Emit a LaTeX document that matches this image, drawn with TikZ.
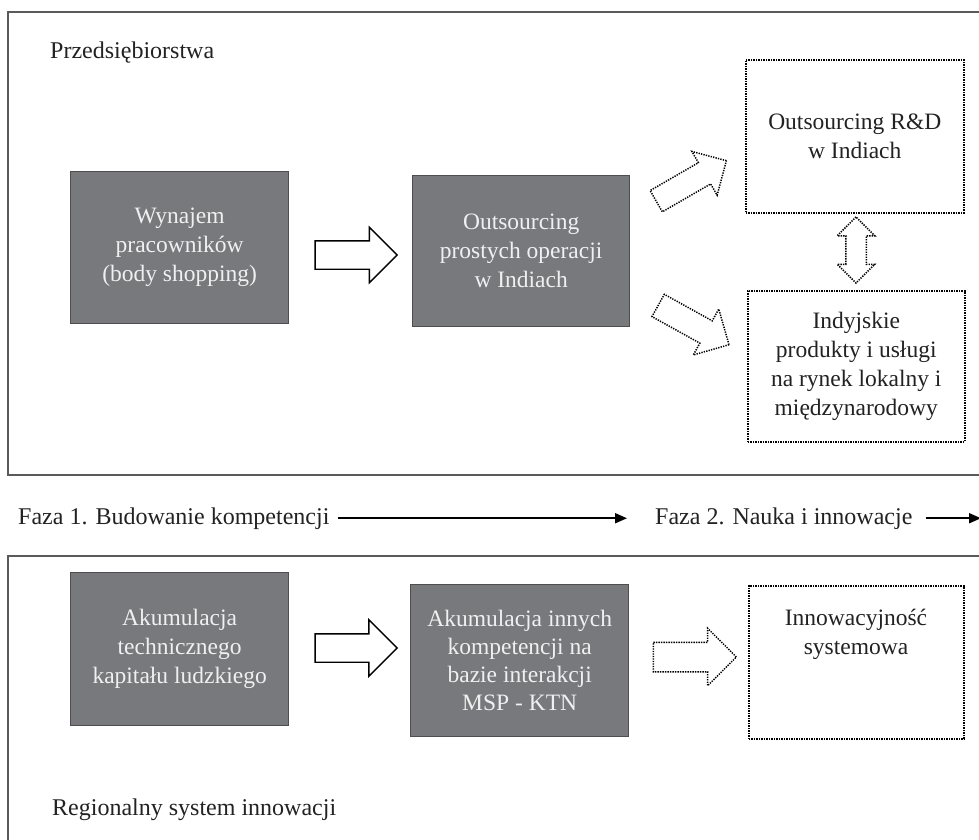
\documentclass[tikz,border=0pt]{standalone}
\usepackage{fontspec}
\setmainfont{Liberation Serif}
\usetikzlibrary{shapes.arrows,arrows.meta}
\definecolor{boxfill}{HTML}{78797D}
\definecolor{boxedge}{HTML}{4E4E4E}
\definecolor{framecol}{HTML}{5A5A5A}
\definecolor{txt}{HTML}{222222}
\begin{document}
\begin{tikzpicture}[x=1pt,y=-1pt,
  frame/.style={draw=framecol, line width=1.5pt},
  graybox/.style={draw=boxedge, fill=boxfill, line width=1.3pt, text=white!94!black,
    align=center, font=\fontsize{23.5}{29}\selectfont, inner sep=0pt, anchor=north west},
  dotbox/.style={draw=black, dash pattern=on 1.3pt off 1.2pt, line width=1.5pt, text=txt,
    align=center, font=\fontsize{23.5}{29}\selectfont, inner sep=0pt, anchor=north west},
  blocktext/.style={text=txt, align=center, font=\fontsize{23.5}{29}\selectfont, inner sep=0pt},
  lbl/.style={text=txt, font=\fontsize{24}{28}\selectfont, inner sep=0pt, anchor=base west},
  solidarrow/.style={single arrow, draw=black, fill=white, line width=1.4pt, inner xsep=0pt,
    single arrow head indent=0pt},
  dotarrow/.style={single arrow, draw=black, dash pattern=on 1.3pt off 1.2pt, line width=1.5pt,
    inner xsep=0pt, single arrow head indent=0pt},
  dotdouble/.style={double arrow, draw=black, dash pattern=on 1.3pt off 1.2pt, line width=1.5pt,
    inner xsep=0pt, double arrow head indent=0pt},
  phase/.style={draw=black, line width=1.8pt, -{Triangle[length=12pt,width=10pt]}}
]
\useasboundingbox (0,0) rectangle (979,839);
\clip (0,0) rectangle (979,839);
\fill[white] (0,0) rectangle (979,839);

% frames
\draw[frame] (8,12) rectangle (995,475);
\draw[frame] (8,556) rectangle (995,860);

% labels
\node[lbl] (firm) at (50,58) {Przedsiębiorstwa};
\node[lbl] (reg) at (52,815) {Regionalny system innowacji};
\node[lbl] (f1) at (18,524) {Faza 1. Budowanie kompetencji};
\node[lbl] (f2) at (655,524) {Faza 2. Nauka i innowacje};
\coordinate (endx) at (981,0);

% top boxes
\node[graybox, minimum width=218pt, minimum height=152pt] (wyn) at (70,171)
  {Wynajem\\pracowników\\(body shopping)};
\node[graybox, minimum width=217pt, minimum height=151pt] (outp) at (412,175)
  {Outsourcing\\prostych operacji\\w Indiach};
\node[dotbox, minimum width=218pt, minimum height=153pt] (rd) at (745,59)
  {Outsourcing R\&D\\w Indiach};
\node[dotbox, minimum width=217pt, minimum height=151pt] (ind) at (747,290)
  {Indyjskie\\produkty i usługi\\na rynek lokalny i\\międzynarodowy};

% bottom boxes
\node[graybox, minimum width=218pt, minimum height=153pt] (akt) at (70,572)
  {Akumulacja\\technicznego\\kapitału ludzkiego};
\node[graybox, minimum width=218pt, minimum height=152pt, font=\fontsize{23.5}{28}\selectfont] (aki) at (410,584)
  {Akumulacja innych\\kompetencji na\\bazie interakcji\\MSP - KTN};
\node[dotbox, minimum width=215pt, minimum height=153pt] (inn) at (748,585) {};
\node[blocktext] (inntext) at (856,634) {Innowacyjność\\systemowa};

% block arrows
\node[solidarrow, inner ysep=13.5pt, minimum height=82pt, minimum width=54pt, single arrow head extend=13.5pt] (a1) at (349,255) {};
\node[solidarrow, inner ysep=13.5pt, minimum height=82pt, minimum width=55pt, single arrow head extend=14pt] (a2) at (349,648) {};
\node[dotarrow, inner ysep=14pt, minimum height=83pt, minimum width=56pt, single arrow head extend=14pt] (a3) at (687.5,657) {};
\node[dotarrow, inner ysep=11.5pt, rotate=30, minimum height=81pt, minimum width=49pt, single arrow head extend=13pt] (a4) at (686,184) {};
\node[dotarrow, inner ysep=12pt, rotate=-29, minimum height=81pt, minimum width=51pt, single arrow head extend=13.5pt] (a5) at (688,322) {};
\node[dotdouble, inner ysep=9.5pt, rotate=90, minimum height=66pt, minimum width=36pt, double arrow head extend=8.5pt] (a6) at (856,250) {};

% phase arrows
\draw[phase] ([xshift=8pt]f1.east) -- ([xshift=-28pt]f2.west);
\draw[phase] ([xshift=13pt]f2.east) -- (f2.east -| endx);
\end{tikzpicture}
\end{document}
